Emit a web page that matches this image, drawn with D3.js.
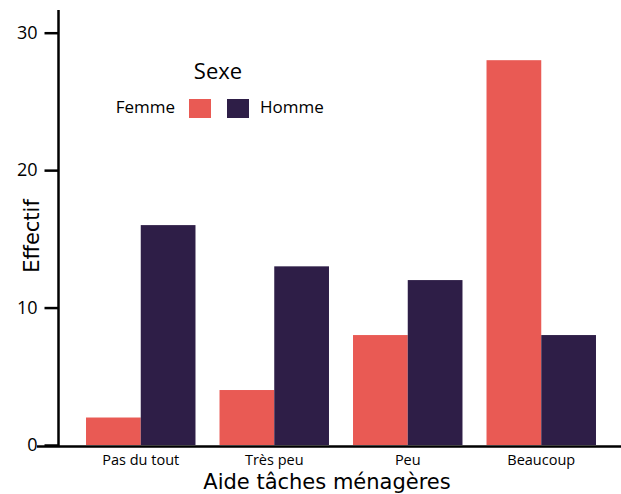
<!DOCTYPE html>
<html>
<head>
<meta charset="utf-8">
<script src="https://cdn.jsdelivr.net/npm/d3@7"></script>
<style>
  body { margin: 0; background: white; }
  text { font-family: "Open Sans", "DejaVu Sans", sans-serif; fill: black; }
</style>
</head>
<body>
<script>
'use strict';
// categories and counts per sex
const categories = ["Pas du tout", "Très peu", "Peu", "Beaucoup"];
const sexes = ["Femme", "Homme"];
const femme = [2, 4, 8, 28];
const homme = [16, 13, 12, 8];
const yTicks = [0, 10, 20, 30];
const colors = ["#E95A54", "#2E1E47"];

(function() {
    let svg = d3.select('body')
        .append('svg')
        .attr('width', 621)
        .attr('height', 494);

    let rows = categories.map((c, i) => ({cat: c, values: [femme[i], homme[i]]}));

    // band scale for groups, inner scale for the two bars
    let x = d3.scaleBand()
        .domain(categories)
        .range([74, 608])
        .paddingInner(0.18)
        .paddingOuter(0.09);

    let xInner = d3.scaleBand()
        .domain(sexes)
        .range([0, x.bandwidth()]);

    let y = d3.scaleLinear()
        .domain([0, 30])
        .range([445, 32.7]);

    // bars
    let groups = svg.selectAll('.grp')
        .data(rows)
        .enter()
        .append('g')
        .attr('transform', d => 'translate(' + x(d.cat) + ',0)');

    groups.selectAll('rect')
        .data(d => d.values.map((v, j) => ({sex: sexes[j], v: v, j: j})))
        .enter()
        .append('rect')
        .attr('x', d => xInner(d.sex))
        .attr('y', d => y(d.v))
        .attr('width', xInner.bandwidth())
        .attr('height', d => y(0) - y(d.v))
        .attr('fill', d => colors[d.j]);

    // y axis
    let yAxis = d3.axisLeft(y).tickValues(yTicks).tickSize(14).tickPadding(7);
    let gy = svg.append('g')
        .attr('transform', 'translate(58.5,0)')
        .call(yAxis);
    gy.select('.domain').remove();
    gy.selectAll('.tick line').attr('stroke', 'black').attr('stroke-width', 2.5);
    gy.selectAll('.tick text').style('font-size', '18px');
    svg.append('line')
        .attr('x1', 58.5).attr('x2', 58.5)
        .attr('y1', 10).attr('y2', 447)
        .attr('stroke', 'black').attr('stroke-width', 2.5);

    // x axis
    let xAxis = d3.axisBottom(x).tickSize(0).tickPadding(10);
    let gx = svg.append('g')
        .attr('transform', 'translate(0,' + y(0) + ')')
        .call(xAxis);
    gx.select('.domain').remove();
    gx.selectAll('.tick text').style('font-size', '14.5px');
    svg.append('line')
        .attr('x1', 37).attr('x2', 621)
        .attr('y1', y(0) + 1.5).attr('y2', y(0) + 1.5)
        .attr('stroke', 'black').attr('stroke-width', 2.5);

    // axis titles
    svg.append('text')
        .attr('x', 327)
        .attr('y', 489)
        .attr('text-anchor', 'middle')
        .style('font-size', '21px')
        .style('font-family', '"DejaVu Sans", sans-serif')
        .text('Aide tâches ménagères');

    svg.append('text')
        .attr('transform', 'translate(39,236)rotate(-90)')
        .attr('text-anchor', 'middle')
        .style('font-size', '21px')
        .style('font-family', '"DejaVu Sans", sans-serif')
        .text('Effectif');

    // legend
    svg.append('text')
        .attr('x', 218)
        .attr('y', 79)
        .attr('text-anchor', 'middle')
        .style('font-size', '22px')
        .text('Sexe');

    svg.append('text')
        .attr('x', 175)
        .attr('y', 113)
        .attr('text-anchor', 'end')
        .style('font-size', '17px')
        .text('Femme');
    svg.append('rect')
        .attr('x', 189).attr('y', 99)
        .attr('width', 22).attr('height', 19)
        .attr('fill', colors[0]);
    svg.append('rect')
        .attr('x', 227).attr('y', 99)
        .attr('width', 22).attr('height', 19)
        .attr('fill', colors[1]);
    svg.append('text')
        .attr('x', 260)
        .attr('y', 113)
        .style('font-size', '17px')
        .text('Homme');
})();
</script>
</body>
</html>
